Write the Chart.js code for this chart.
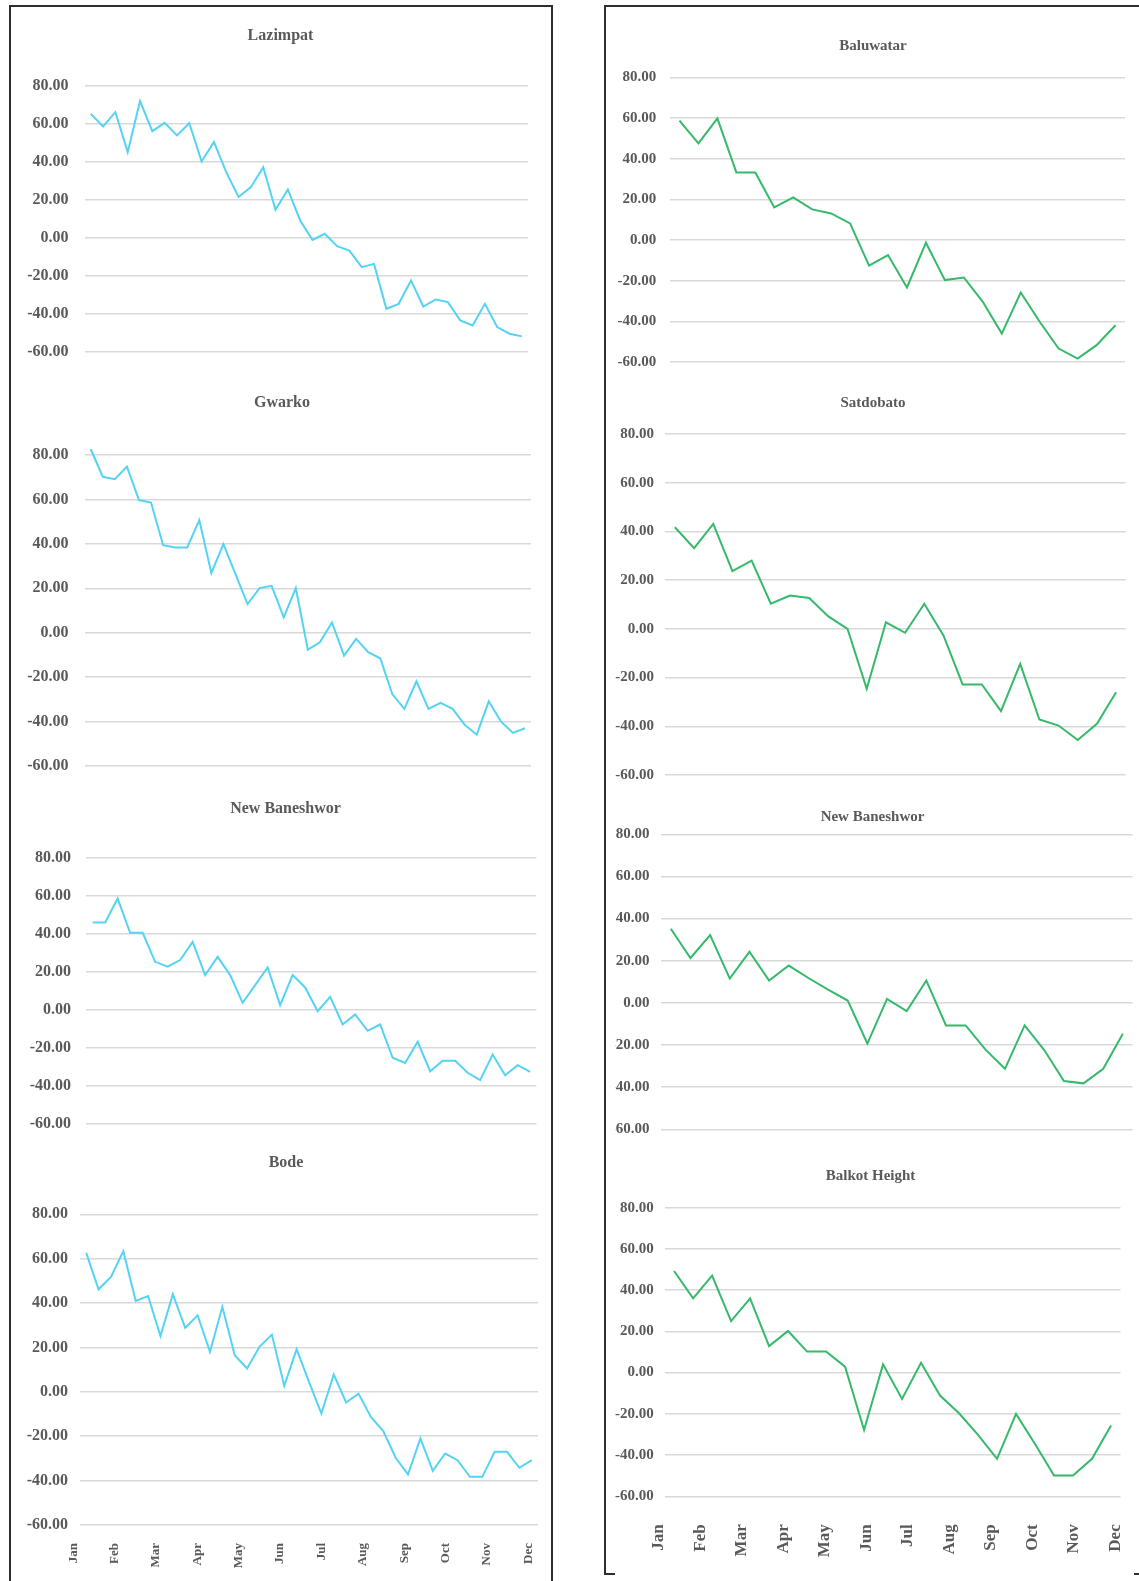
<!DOCTYPE html>
<html>
<head>
<meta charset="utf-8">
<title>Monthly trend charts</title>
<script src="https://cdn.jsdelivr.net/npm/chart.js@4.4.1/dist/chart.umd.min.js"></script>
<style>
  html, body { margin:0; padding:0; background:#ffffff; }
  body { position:relative; width:1139px; height:1581px; overflow:hidden; }
  .line { position:absolute; background:#2e2e2e; }
  .wrap { position:absolute; overflow:hidden; }
  .wrap canvas { position:absolute; top:0; }
</style>
</head>
<body>
<div class="line" style="left:9px;top:5px;width:544px;height:2px"></div>
<div class="line" style="left:9px;top:5px;width:2px;height:1600px"></div>
<div class="line" style="left:551px;top:5px;width:2px;height:1600px"></div>
<div class="line" style="left:604px;top:5px;width:540px;height:2px"></div>
<div class="line" style="left:604px;top:5px;width:2px;height:1570px"></div>
<div class="line" style="left:604px;top:1573px;width:11px;height:2px"></div>
<div class="line" style="left:1134px;top:1573px;width:6px;height:2px"></div>
<script>
// ---------- data ----------
const MONTHS = ['Jan','Feb','Mar','Apr','May','Jun','Jul','Aug','Sep','Oct','Nov','Dec'];
const Y_TICKS = [80, 60, 40, 20, 0, -20, -40, -60];

const LAZIMPAT = [65.1, 58.5, 66.0, 45.0, 71.8, 56.0, 60.4, 53.8, 60.2, 40.1, 50.3, 34.5,
  21.4, 26.6, 37.1, 14.7, 25.4, 9.1, -1.1, 2.1, -4.4, -6.7, -15.4, -13.7,
  -37.3, -34.7, -22.4, -36.1, -32.4, -33.8, -43.4, -46.1, -34.7, -46.9, -50.4, -51.8];
const GWARKO = [82.6, 70.2, 69.1, 74.8, 59.7, 58.6, 39.4, 38.4, 38.4, 50.7, 26.9, 39.9,
  26.4, 12.9, 20.1, 21.1, 6.9, 20.1, -7.6, -4.3, 4.6, -10.3, -2.8, -8.8,
  -11.5, -27.6, -34.3, -21.9, -34.3, -31.6, -34.3, -41.4, -45.9, -30.9, -39.9, -45.1, -43.0];
const NEW_BANESHWOR_LEFT = [45.8, 45.8, 58.4, 40.4, 40.4, 25.1, 22.5, 26.0, 35.6, 18.1, 27.7, 18.1,
  3.5, 12.8, 22.1, 2.3, 18.1, 11.6, -0.9, 6.7, -7.9, -2.6, -11.2, -7.9,
  -25.4, -28.1, -17.0, -32.5, -27.0, -27.0, -33.3, -37.2, -23.7, -34.6, -29.3, -32.8];
const BODE = [62.6, 46.2, 51.8, 63.4, 41.0, 43.2, 25.1, 44.0, 28.8, 34.5, 18.0, 38.3,
  16.5, 10.5, 20.3, 25.8, 2.7, 19.2, 4.5, -9.8, 7.8, -4.8, -0.8, -11.3,
  -17.7, -29.7, -37.2, -21.0, -35.6, -27.8, -30.8, -38.3, -38.3, -27.0, -27.0, -34.2, -30.8];

const BALUWATAR = [58.8, 47.6, 59.9, 33.3, 33.3, 16.1, 21.0, 15.1, 13.1, 8.2, -12.6, -7.4,
  -23.3, -1.3, -19.7, -18.4, -30.4, -46.0, -25.8, -40.2, -53.4, -58.3, -51.7, -41.9];
const SATDOBATO = [41.7, 33.1, 43.1, 23.7, 28.0, 10.3, 13.7, 12.7, 5.1, 0.0, -24.6, 2.7,
  -1.6, 10.3, -2.7, -22.8, -22.8, -33.8, -14.4, -37.2, -39.7, -45.6, -39.0, -26.0];
const NEW_BANESHWOR_RIGHT = [35.2, 21.3, 32.2, 11.5, 24.3, 10.6, 17.7, 11.8, 6.3, 1.1, -19.3, 1.9,
  -3.9, 10.6, -10.7, -10.7, -22.1, -31.3, -10.7, -22.4, -37.1, -38.2, -31.3, -14.7];
const BALKOT_HEIGHT = [49.3, 36.0, 47.0, 25.0, 36.0, 12.9, 20.2, 10.2, 10.2, 2.9, -27.8, 4.0,
  -12.8, 4.8, -11.1, -19.7, -30.2, -41.8, -20.0, -34.6, -49.9, -49.9, -41.8, -25.7];

// ---------- style ----------
const FONT = '"Liberation Serif", "Times New Roman", serif';
const TEXT = '#595959';
const GRID = '#d9d9d9';
const CYAN = '#55d3f3';
const GREEN = '#35b96b';

// ---------- layout (page pixels) ----------
const PANELS = [
  { title: 'Lazimpat', values: LAZIMPAT, color: CYAN,
    cx: 280, titleY: 36.3, top: 85.5, bottom: 352, left: 84.6, right: 528, labelRight: 68.5, tickSize: 16, titleSize: 16 },
  { title: 'Gwarko', values: GWARKO, color: CYAN,
    cx: 282, titleY: 403, top: 455, bottom: 766, left: 84.7, right: 531, labelRight: 68.6, tickSize: 16, titleSize: 16 },
  { title: 'New Baneshwor', values: NEW_BANESHWOR_LEFT, color: CYAN,
    cx: 285.5, titleY: 808.5, top: 857.5, bottom: 1123.5, left: 86.4, right: 536.4, labelRight: 71, tickSize: 16, titleSize: 16 },
  { title: 'Bode', values: BODE, color: CYAN,
    cx: 286, titleY: 1162.5, top: 1214.3, bottom: 1525, left: 80, right: 538, labelRight: 68, tickSize: 16, titleSize: 16,
    months: { min: 0.162, max: 11.235, pad: 18, size: 13, height: 55 } },
  { title: 'Baluwatar', values: BALUWATAR, color: GREEN,
    cx: 873.3, titleY: 46, top: 77.5, bottom: 362, left: 670, right: 1125, labelRight: 656.3, tickSize: 15, titleSize: 15 },
  { title: 'Satdobato', values: SATDOBATO, color: GREEN,
    cx: 873, titleY: 402.7, top: 434, bottom: 775, left: 665.3, right: 1125.7, labelRight: 654, tickSize: 15, titleSize: 15 },
  { title: 'New Baneshwor', values: NEW_BANESHWOR_RIGHT, color: GREEN,
    cx: 872, titleY: 817, top: 834.3, bottom: 1129.3, left: 661, right: 1132.7, labelRight: 649.5, tickSize: 15, titleSize: 15,
    clipLeft: 615 },
  { title: 'Balkot Height', values: BALKOT_HEIGHT, color: GREEN,
    cx: 870, titleY: 1176, top: 1207.7, bottom: 1496.3, left: 664.6, right: 1120.5, labelRight: 653.7, tickSize: 15, titleSize: 15,
    months: { min: 0.135, max: 11.12, pad: 28, size: 17, height: 65 } }
];

PANELS.forEach(function (p) {
  const lh = p.titleSize * 1.2;
  const rightNeed = p.months ? 26 : 4;
  const half = Math.max(p.cx - (p.labelRight - 48), p.right + rightNeed - p.cx);
  const cl = Math.round(p.cx - half);
  const cr = Math.round(p.cx + half);
  const W = cr - cl;
  const leftW = p.left - cl;     // width of the value axis
  const rightW = cr - p.right;   // width of the empty right spacer axis
  const T = Math.round(p.titleY - lh / 2 - 4);
  const padTop = p.titleY - lh / 2 - T;
  const padBottom = p.top - T - padTop - lh;
  const extra = p.months ? p.months.height : 32;
  const H = Math.round(p.bottom + extra - T);
  const bottomSpace = T + H - p.bottom;

  const wrap = document.createElement('div');
  wrap.className = 'wrap';
  const wl = (p.clipLeft !== undefined) ? p.clipLeft : cl;
  wrap.style.left = wl + 'px';
  wrap.style.top = T + 'px';
  wrap.style.width = (cr - wl) + 'px';
  wrap.style.height = H + 'px';
  const cv = document.createElement('canvas');
  cv.width = W; cv.height = H;
  cv.style.width = W + 'px'; cv.style.height = H + 'px';
  cv.style.left = (cl - wl) + 'px';
  wrap.appendChild(cv);
  document.body.appendChild(wrap);

  const n = p.values.length;
  const scales = {
    x: { type: 'linear', display: false, min: -0.5, max: n - 0.5 },
    y: {
      type: 'linear', position: 'left',
      min: Math.min.apply(null, Y_TICKS), max: Math.max.apply(null, Y_TICKS),
      afterBuildTicks: function (s) { s.ticks = Y_TICKS.map(function (v) { return { value: v }; }); },
      afterFit: function (s) { s.width = leftW; },
      grid: { color: GRID, lineWidth: 1.5, drawTicks: false },
      border: { display: false },
      ticks: {
        padding: p.left - p.labelRight, color: TEXT,
        font: { family: FONT, size: p.tickSize, weight: 'bold' },
        callback: function (v) { return Number(v).toFixed(2); }
      }
    },
    spacer: {
      type: 'linear', position: 'right', display: true,
      afterFit: function (s) { s.width = rightW; },
      grid: { display: false, drawTicks: false },
      border: { display: false },
      ticks: { display: false }
    }
  };
  if (p.months) {
    scales.m = {
      type: 'linear', position: 'bottom', min: p.months.min, max: p.months.max,
      afterBuildTicks: function (s) { s.ticks = MONTHS.map(function (m, i) { return { value: i }; }); },
      afterFit: function (s) { s.height = bottomSpace; },
      grid: { display: false, drawTicks: true, tickLength: p.months.pad },
      border: { display: false },
      ticks: {
        autoSkip: false, maxRotation: 90, minRotation: 90, padding: 0, color: TEXT,
        font: { family: FONT, size: p.months.size, weight: 'bold' },
        callback: function (v) { return MONTHS[v]; }
      }
    };
  }

  new Chart(cv, {
    type: 'line',
    data: {
      datasets: [{
        label: p.title,
        data: p.values.map(function (v, i) { return { x: i, y: v }; }),
        xAxisID: 'x', yAxisID: 'y',
        borderColor: p.color, borderWidth: 2, pointRadius: 0, tension: 0, fill: false,
        clip: false
      }]
    },
    options: {
      responsive: false, animation: false, devicePixelRatio: 1,
      layout: { padding: { left: 0, right: 0, top: 0, bottom: p.months ? 0 : bottomSpace } },
      plugins: {
        legend: { display: false },
        tooltip: { enabled: false },
        title: {
          display: true, text: p.title, color: TEXT,
          font: { family: FONT, size: p.titleSize, weight: 'bold', lineHeight: 1.2 },
          padding: { top: padTop, bottom: padBottom }
        }
      },
      scales: scales
    }
  });
});
</script>
</body>
</html>
